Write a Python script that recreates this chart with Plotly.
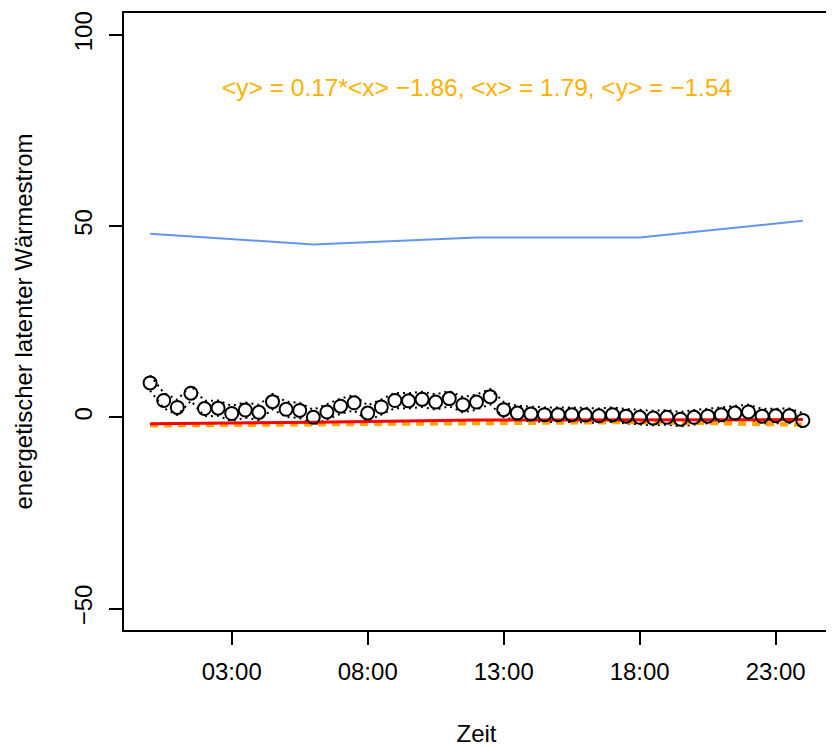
import plotly.graph_objects as go

# half-hourly points (hours)
x_hours = [i * 0.5 for i in range(49)]
y_mean = [9.0, 4.4, 2.6, 6.3, 2.3, 2.4, 1.0, 1.9, 1.3, 4.1, 2.1, 1.8,
          0.0, 1.4, 2.9, 3.8, 1.1, 2.7, 4.4, 4.3, 4.7, 4.0, 4.9, 3.3,
          4.0, 5.4, 2.0, 1.1, 0.9, 0.7, 0.7, 0.7, 0.6, 0.4, 0.7, 0.3,
          0.0, -0.2, 0.0, -0.5, 0.0, 0.3, 0.7, 1.1, 1.4, 0.3, 0.4, 0.4, -0.8]
y_err = [2.0, 2.0, 2.0, 2.0, 2.0, 2.0, 2.0, 2.0, 2.0, 2.0, 2.0, 2.0,
         2.0, 2.0, 2.0, 2.0, 2.0, 2.0, 2.0, 2.0, 2.0, 2.0, 2.0, 2.0,
         2.0, 2.0, 2.0, 1.9, 1.9, 1.9, 1.9, 1.9, 1.9, 1.9, 1.9, 1.9,
         1.9, 1.9, 1.9, 1.9, 1.9, 1.9, 1.9, 1.9, 1.9, 1.9, 1.9, 1.9, 1.9]

# 6-hourly lines
x6 = [0, 6, 12, 18, 24]
blue_vals = [48.0, 45.2, 47.0, 47.0, 51.4]
red_vals = [-1.7, -1.3, -0.7, -0.6, -0.6]
orange_vals = [-2.1, -1.8, -1.4, -1.2, -1.9]

tick_vals = [3, 8, 13, 18, 23]
tick_text = ["03:00", "08:00", "13:00", "18:00", "23:00"]
y_ticks = [-50, 0, 50, 100]
y_tick_text = ["\u221250", "0", "50", "100"]

annot_text = "<y> = 0.17*<x> \u22121.86, <x> = 1.79, <y> = \u22121.54"

FONT = "Liberation Sans, Arial, Helvetica, sans-serif"
FS = 24

fig = go.Figure()
fig.add_trace(go.Scatter(x=x6, y=blue_vals, mode="lines",
                         line=dict(color="#6495ED", width=2)))
upper = [m + e for m, e in zip(y_mean, y_err)]
lower = [m - e for m, e in zip(y_mean, y_err)]
fig.add_trace(go.Scatter(x=x_hours, y=upper, mode="lines",
                         line=dict(color="black", width=2, dash="2px,4px")))
fig.add_trace(go.Scatter(x=x_hours, y=lower, mode="lines",
                         line=dict(color="black", width=2, dash="2px,4px")))
fig.add_trace(go.Scatter(x=x6, y=orange_vals, mode="lines",
                         line=dict(color="#FFA500", width=4.5, dash="8px,6px")))
fig.add_trace(go.Scatter(x=x6, y=red_vals, mode="lines",
                         line=dict(color="red", width=3)))
fig.add_trace(go.Scatter(x=x_hours, y=y_mean, mode="markers",
                         marker=dict(symbol="circle-open", size=13,
                                     color="black", line=dict(width=2, color="black"))))

fig.add_annotation(x=12, y=86.2, text=annot_text.replace("<", "&lt;").replace(">", "&gt;"),
                   showarrow=False, font=dict(color="#FFB000", size=24.5, family=FONT),
                   xanchor="center", yanchor="middle")

fig.update_layout(
    width=826, height=739,
    margin=dict(l=116, r=3, t=4, b=117),
    paper_bgcolor="white", plot_bgcolor="white",
    showlegend=False,
    font=dict(family=FONT, size=FS, color="black"),
)
fig.update_xaxes(range=[-0.96, 24.96], tickvals=tick_vals, ticktext=tick_text,
                 showgrid=False, zeroline=False, showline=True, mirror=True,
                 linecolor="black", linewidth=1.5, ticks="outside", ticklen=13,
                 tickwidth=1.5, tickcolor="black", ticklabelstandoff=6,
                 title=dict(text="Zeit", standoff=42, font=dict(size=FS)))
fig.update_yaxes(range=[-55.6, 105.7], tickvals=y_ticks, ticktext=y_tick_text,
                 tickangle=-90,
                 showgrid=False, zeroline=False, showline=True, mirror=True,
                 linecolor="black", linewidth=1.5, ticks="outside", ticklen=13,
                 tickwidth=1.5, tickcolor="black", ticklabelstandoff=8,
                 title=dict(text="energetischer latenter Wärmestrom", standoff=30,
                            font=dict(size=FS)))

fig.write_html("out.html")
